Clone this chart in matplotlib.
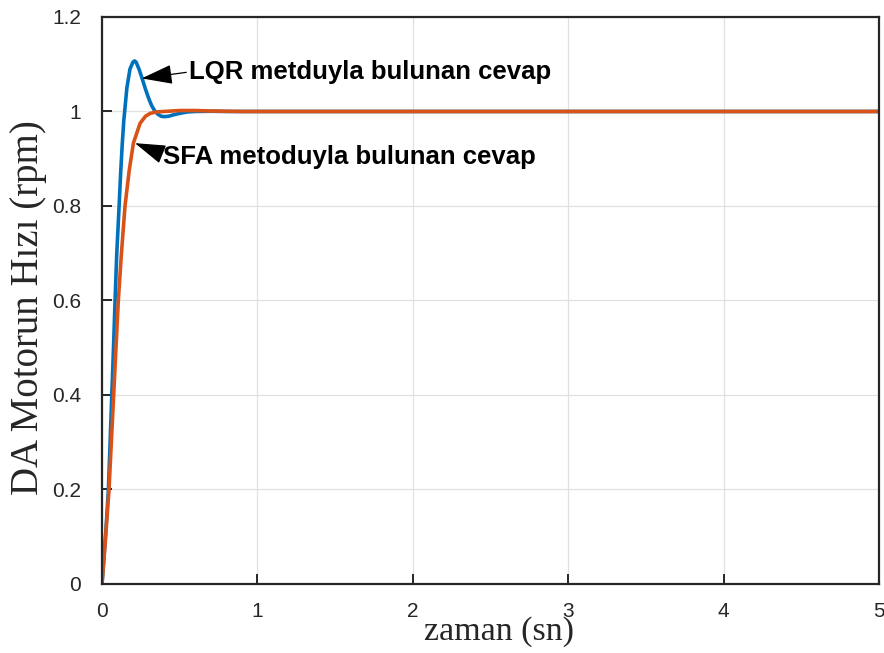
import matplotlib
matplotlib.use('Agg')
import matplotlib.pyplot as plt

# LQR response (blue)
t_lqr = [0, 0.02, 0.03, 0.041, 0.05, 0.063, 0.075, 0.084, 0.095, 0.110, 0.12, 0.13,
         0.14, 0.16, 0.18, 0.20, 0.21, 0.22, 0.24, 0.26, 0.28, 0.30, 0.32, 0.34,
         0.36, 0.38, 0.40, 0.43, 0.46, 0.50, 0.55, 0.60, 0.70, 0.80, 1.0, 5.0]
y_lqr = [0, 0.09, 0.14, 0.20, 0.28, 0.40, 0.51, 0.60, 0.70, 0.80, 0.87, 0.93,
         0.98, 1.05, 1.09, 1.105, 1.107, 1.104, 1.088, 1.068, 1.047, 1.028, 1.012, 1.001,
         0.994, 0.990, 0.989, 0.990, 0.993, 0.996, 0.999, 1.000, 1.0005, 1.000, 1.0, 1.0]

# SFA response (orange)
t_sfa = [0, 0.02, 0.045, 0.06, 0.075, 0.09, 0.105, 0.125, 0.148, 0.175, 0.202,
         0.245, 0.28, 0.31, 0.35, 0.40, 0.50, 0.60, 0.70, 0.90, 5.0]
y_sfa = [0, 0.085, 0.20, 0.30, 0.40, 0.50, 0.60, 0.70, 0.80, 0.875, 0.933,
         0.975, 0.99, 0.996, 0.999, 1.0, 1.002, 1.002, 1.001, 1.0, 1.0]

xticks = [0, 1, 2, 3, 4, 5]
yticks = [0, 0.2, 0.4, 0.6, 0.8, 1, 1.2]
ytick_labels = ['0', '0.2', '0.4', '0.6', '0.8', '1', '1.2']

fig = plt.figure(figsize=(8.84, 6.53), dpi=100)
ax = fig.add_axes([0.1154, 0.1057, 0.8789, 0.8683])

ax.plot(t_lqr, y_lqr, color='#0072BD', lw=2.6)
ax.plot(t_sfa, y_sfa, color='#D95319', lw=2.6)

ax.set_xlim(0, 5)
ax.set_ylim(0, 1.2)
ax.set_xticks(xticks)
ax.set_yticks(yticks)
ax.set_yticklabels(ytick_labels)
ax.grid(True, color='#e0e0e0', lw=0.9)
ax.set_axisbelow(True)
for s in ax.spines.values():
    s.set_linewidth(1.6)
    s.set_color('#262626')
ax.tick_params(direction='in', length=7, width=1.4, colors='#262626', labelsize=15)
ax.tick_params(axis='x', pad=13)
ax.tick_params(axis='y', pad=15)
for lab in ax.get_xticklabels() + ax.get_yticklabels():
    lab.set_family('Liberation Sans')

# labels sit where the original put them (x label runs into the "3" tick label)
ax.set_xlabel('zaman (sn)', family='Liberation Serif', fontsize=24.5,
              color='#262626', va='baseline')
ax.xaxis.set_label_coords(0.511, -0.0988)
ax.set_ylabel('DA Motorun Hızı (rpm)', family='Liberation Serif', fontsize=28,
              color='#262626', va='center')
ax.yaxis.set_label_coords(-0.0952, 0.487)

ax.annotate('LQR metduyla bulunan cevap', xy=(0.255, 1.070), xytext=(0.56, 1.0836),
            fontsize=18.5, fontweight='bold', family='Liberation Sans', va='center',
            arrowprops=dict(arrowstyle='-|>,head_length=1.05,head_width=0.33',
                            color='black', lw=0.9, shrinkA=0, shrinkB=0,
                            relpos=(0, 0.5)))
ax.annotate('SFA metoduyla bulunan cevap', xy=(0.212, 0.933), xytext=(0.393, 0.904),
            fontsize=18.5, fontweight='bold', family='Liberation Sans', va='center',
            arrowprops=dict(arrowstyle='-|>,head_length=1.05,head_width=0.33',
                            color='black', lw=0.9, shrinkA=0, shrinkB=0,
                            relpos=(0, 0.6)))

fig.savefig('out.png', dpi=100)
